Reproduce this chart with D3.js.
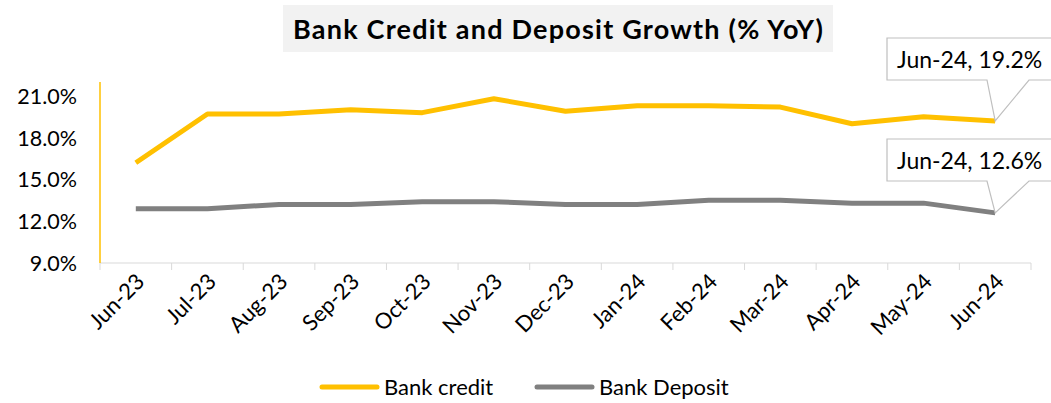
<!DOCTYPE html>
<html>
<head>
<meta charset="utf-8">
<script src="https://cdn.jsdelivr.net/npm/d3@7"></script>
<style>
body { margin: 0; background: #fff; }
text { font-family: Lato, "Open Sans", sans-serif; }
</style>
</head>
<body>
<script>
var months = ["Jun-23","Jul-23","Aug-23","Sep-23","Oct-23","Nov-23","Dec-23","Jan-24","Feb-24","Mar-24","Apr-24","May-24","Jun-24"];
var credit = [16.2, 19.7, 19.7, 20.0, 19.8, 20.8, 19.9, 20.3, 20.3, 20.2, 19.0, 19.5, 19.2];
var deposit = [12.9, 12.9, 13.2, 13.2, 13.4, 13.4, 13.2, 13.2, 13.5, 13.5, 13.3, 13.3, 12.6];
var yTicks = [9, 12, 15, 18, 21];

var width = 1051, height = 403;
var margin = {top: 82, left: 100, right: 20, bottom: 140};
var innerH = 263 - margin.top;

var svg = d3.select("body").append("svg")
	.attr("width", width)
	.attr("height", height);

// title
svg.append("rect")
	.attr("x", 283).attr("y", 5)
	.attr("width", 550).attr("height", 47)
	.attr("fill", "#f2f2f2");
svg.append("text")
	.attr("x", 558).attr("y", 39)
	.attr("text-anchor", "middle")
	.attr("font-size", "27px")
	.attr("font-weight", "bold")
	.attr("textLength", 530)
	.text("Bank Credit and Deposit Growth (% YoY)");

var g = svg.append("g")
	.attr("transform", "translate(" + margin.left + "," + margin.top + ")");

var x = d3.scaleBand()
	.domain(months)
	.range([0, 931]);

var y = d3.scaleLinear()
	.domain([9, 22])
	.range([innerH, 0]);

// x axis line + ticks at band edges
g.append("line")
	.attr("x1", 0).attr("x2", 931)
	.attr("y1", innerH).attr("y2", innerH)
	.attr("stroke", "#d9d9d9");
g.selectAll(".xtick")
	.data(d3.range(months.length + 1))
	.enter().append("line")
	.attr("x1", (i) => i * x.step()).attr("x2", (i) => i * x.step())
	.attr("y1", innerH).attr("y2", innerH + 7)
	.attr("stroke", "#d9d9d9");

g.selectAll(".xlabel")
	.data(months)
	.enter().append("text")
	.attr("text-anchor", "end")
	.attr("font-size", "22px")
	.attr("transform", (d) => "translate(" + (x(d) + x.bandwidth() / 2 + 10) + "," + (innerH + 20) + ") rotate(-45)")
	.text((d) => d);

// y axis (gold line, labels)
g.append("line")
	.attr("x1", 0).attr("x2", 0)
	.attr("y1", 0).attr("y2", innerH)
	.attr("stroke", "#FFC000")
	.attr("stroke-width", 1.5);
g.selectAll(".ylabel")
	.data(yTicks)
	.enter().append("text")
	.attr("x", -23)
	.attr("y", (d) => y(d) + 8)
	.attr("text-anchor", "end")
	.attr("font-size", "21.5px")
	.text((d) => d.toFixed(1) + "%");

var line = d3.line()
	.x((d, i) => x(months[i]) + x.bandwidth() / 2)
	.y((d) => y(d));

g.append("path").datum(deposit)
	.attr("d", line)
	.attr("fill", "none")
	.attr("stroke", "#808080")
	.attr("stroke-width", 5)
	.attr("stroke-linejoin", "round");

g.append("path").datum(credit)
	.attr("d", line)
	.attr("fill", "none")
	.attr("stroke", "#FFC000")
	.attr("stroke-width", 5)
	.attr("stroke-linejoin", "round");

// callouts
function callout(val, boxTop) {
	var last = months.length - 1;
	var px = x(months[last]) + x.bandwidth() / 2;
	var py = y(val);
	var bx = 787, bw = 200, bh = 42;
	var by = boxTop - margin.top;
	var pts = [
		[bx, by], [bx + bw, by], [bx + bw, by + bh],
		[bx + 142, by + bh], [px, py], [bx + 100, by + bh],
		[bx, by + bh]
	];
	g.append("path")
		.attr("d", "M" + pts.join("L") + "Z")
		.attr("fill", "#fff")
		.attr("stroke", "#bfbfbf")
		.attr("stroke-width", 1.2);
	g.append("text")
		.attr("x", bx + 10)
		.attr("y", by + 30)
		.attr("font-size", "23px")
		.text(months[last] + ", " + val.toFixed(1) + "%");
}
callout(credit[credit.length - 1], 38);
callout(deposit[deposit.length - 1], 139);

// legend
var legend = [{name: "Bank credit", color: "#FFC000", x: 322}, {name: "Bank Deposit", color: "#808080", x: 537}];
var lg = svg.selectAll(".legend")
	.data(legend)
	.enter().append("g");
lg.append("line")
	.attr("x1", (d) => d.x).attr("x2", (d) => d.x + 55)
	.attr("y1", 387).attr("y2", 387)
	.attr("stroke", (d) => d.color)
	.attr("stroke-width", 5)
	.attr("stroke-linecap", "round");
lg.append("text")
	.attr("x", (d) => d.x + 62)
	.attr("y", 395)
	.attr("font-size", "22px")
	.text((d) => d.name);
</script>
</body>
</html>
